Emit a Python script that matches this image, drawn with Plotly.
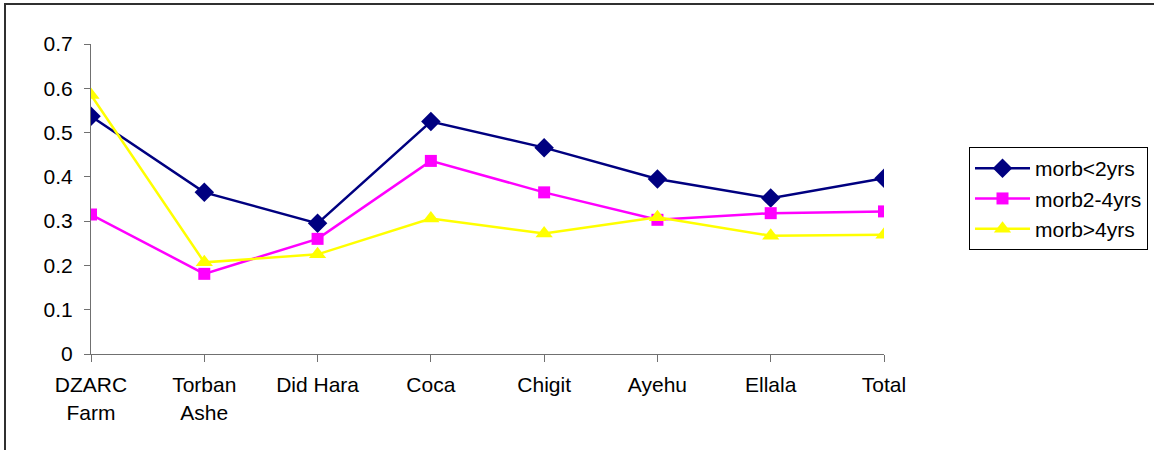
import plotly.graph_objects as go

categories = ["DZARC<br>Farm", "Torban<br>Ashe", "Did Hara", "Coca", "Chigit", "Ayehu", "Ellala", "Total"]
morb_lt2 = [0.537, 0.365, 0.295, 0.525, 0.466, 0.395, 0.352, 0.397]
morb_2to4 = [0.315, 0.181, 0.260, 0.436, 0.365, 0.303, 0.318, 0.322]
morb_gt4 = [0.585, 0.207, 0.225, 0.306, 0.272, 0.309, 0.267, 0.269]
series_names = ["morb<2yrs", "morb2-4yrs", "morb>4yrs"]
y_ticks = [0, 0.1, 0.2, 0.3, 0.4, 0.5, 0.6, 0.7]
y_tick_labels = ["0", "0.1", "0.2", "0.3", "0.4", "0.5", "0.6", "0.7"]

FONT = "Liberation Sans, Arial, sans-serif"

fig = go.Figure()
styles = [
    ("#000080", "diamond", 15),
    ("#FF00FF", "square", 12),
    ("#FFFF00", "triangle-up", 15),
]
for name, vals, (col, sym, sz) in zip(series_names, [morb_lt2, morb_2to4, morb_gt4], styles):
    fig.add_trace(go.Scatter(
        x=list(range(len(categories))), y=vals, name=name, mode="lines+markers",
        line=dict(color=col, width=2.5),
        marker=dict(symbol=sym, size=sz, color=col, line=dict(width=0)),
    ))

L, R, T, B = 91, 270, 44, 96
W, H = 1154, 450
pw, ph = W - L - R, H - T - B

def px_x(p):
    return (p - L) / pw

def px_y(p):
    return (H - B - p) / ph

fig.update_layout(
    width=W, height=H,
    margin=dict(l=L, r=R, t=T, b=B, autoexpand=False),
    paper_bgcolor="white", plot_bgcolor="white",
    font=dict(family=FONT, size=21, color="black"),
    showlegend=True,
    legend=dict(
        xref="container", yref="container",
        x=969 / W, y=1 - 147 / H, xanchor="left", yanchor="top",
        bordercolor="black", borderwidth=1, bgcolor="white",
        font=dict(family=FONT, size=21, color="black"),
        tracegroupgap=0, itemwidth=55,
    ),
    xaxis=dict(
        range=[0, len(categories) - 1],
        tickmode="array", tickvals=list(range(len(categories))), ticktext=categories,
        showgrid=False, zeroline=False,
        showline=True, linecolor="#707070", linewidth=1,
        ticks="outside", ticklen=7, tickcolor="#707070",
        tickfont=dict(family=FONT, size=21),
        ticklabelstandoff=5,
        fixedrange=True,
    ),
    yaxis=dict(
        range=[0, 0.7],
        tickmode="array", tickvals=y_ticks, ticktext=y_tick_labels,
        showgrid=False, zeroline=False,
        showline=True, linecolor="#707070", linewidth=1,
        ticks="outside", ticklen=6, tickcolor="#707070",
        tickfont=dict(family=FONT, size=21),
        ticklabelstandoff=7,
        fixedrange=True,
    ),
    shapes=[dict(
        type="rect", xref="paper", yref="paper",
        x0=px_x(5), x1=px_x(1170), y0=px_y(470), y1=px_y(4),
        line=dict(color="#303030", width=2), fillcolor="rgba(0,0,0,0)", layer="below",
    )],
)

fig.write_html("out.html", config={"displayModeBar": False})
